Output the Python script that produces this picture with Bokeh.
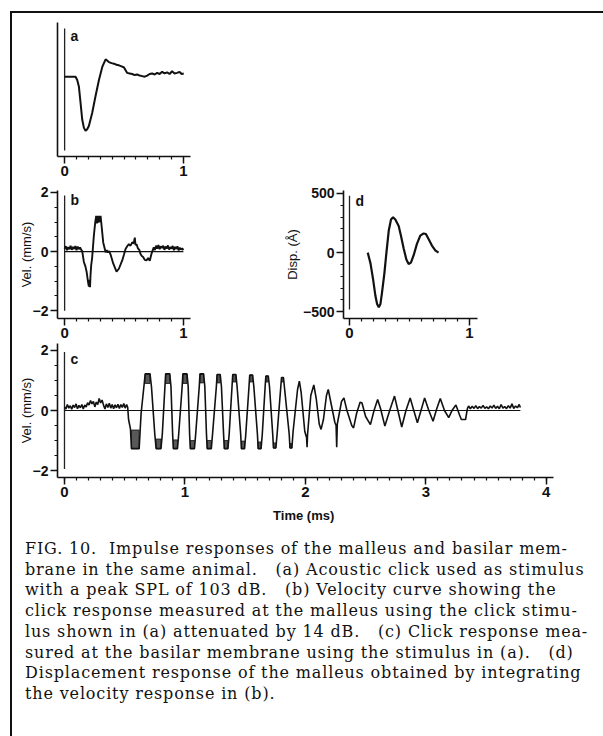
from bokeh.plotting import figure
from bokeh.models import FixedTicker, Range1d, Label, Div, Spacer
from bokeh.layouts import column, row
from bokeh.embed import file_html
from bokeh.resources import INLINE

# ---------------- data ----------------
onset = 0.0  # stimulus onset time (ms)

# (a) acoustic click, arbitrary units (baseline 0, minimum -1)
a_t = [0.0, 0.092, 0.106, 0.12, 0.134, 0.148, 0.162, 0.176, 0.19, 0.204, 0.232, 0.26, 0.289,
       0.317, 0.345, 0.373, 0.395, 0.415, 0.437, 0.457, 0.48, 0.5, 0.527, 0.548, 0.569, 0.59,
       0.611, 0.632, 0.653, 0.674, 0.695, 0.716, 0.737, 0.758, 0.779, 0.80, 0.821, 0.842,
       0.863, 0.884, 0.905, 0.926, 0.947, 0.968, 0.985, 1.003]
a_v = [0.0, 0.0, -0.06, -0.18, -0.48, -0.79, -0.94, -1.0, -0.97, -0.91, -0.67, -0.36, -0.06,
       0.18, 0.32, 0.27, 0.25, 0.24, 0.22, 0.21, 0.19, 0.17, 0.07, 0.06, 0.05, 0.03,
       0.04, 0.02, 0.01, 0.0, 0.02, 0.05, 0.06, 0.04, 0.07, 0.05, 0.09, 0.06,
       0.08, 0.05, 0.10, 0.06, 0.07, 0.09, 0.05, 0.06]
a_marker = (0.89, -1.36)

# (b) malleus velocity (mm/s)
b_t = [0.0, 0.01, 0.02, 0.03, 0.04, 0.05, 0.06, 0.07, 0.08, 0.09, 0.10, 0.11, 0.12, 0.13, 0.14,
       0.148, 0.162, 0.175, 0.185, 0.196, 0.204, 0.210, 0.214, 0.218, 0.224, 0.232, 0.246,
       0.258, 0.266, 0.272, 0.278, 0.284, 0.290, 0.296, 0.303, 0.308, 0.325, 0.345, 0.355,
       0.364, 0.375, 0.387, 0.409, 0.437, 0.457, 0.485, 0.50, 0.513, 0.527, 0.541, 0.555,
       0.569, 0.582, 0.591, 0.597, 0.606, 0.616, 0.63, 0.639, 0.65, 0.661, 0.675, 0.689,
       0.703, 0.717, 0.731, 0.742, 0.751, 0.76, 0.77, 0.78, 0.79, 0.80, 0.81, 0.82, 0.83,
       0.84, 0.85, 0.86, 0.87, 0.88, 0.89, 0.90, 0.91, 0.92, 0.93, 0.94, 0.95, 0.96, 0.97,
       0.98, 0.99, 1.0]
b_v = [0.10, 0.18, 0.05, 0.15, 0.08, 0.20, 0.06, 0.16, 0.09, 0.19, 0.05, 0.17, 0.08, 0.14, 0.06,
       0.02, -0.35, -0.50, -0.68, -1.00, -1.18, -0.95, -1.20, -0.80, -0.45, -0.20, 0.53,
       1.00, 1.21, 0.95, 1.21, 0.98, 1.21, 1.0, 1.21, 1.00, 0.31, -0.02, 0.05,
       -0.03, 0.02, -0.10, -0.40, -0.68, -0.58, -0.30, -0.10, 0.09, 0.18, 0.25, 0.20,
       0.31, 0.28, 0.47, 0.22, 0.25, 0.12, 0.05, -0.08, -0.15, -0.18, -0.28, -0.30,
       -0.22, -0.31, -0.08, 0.05, 0.14, 0.05, 0.20, 0.10, 0.22, 0.08, 0.18, 0.12, 0.20,
       0.06, 0.17, 0.10, 0.21, 0.07, 0.15, 0.10, 0.19, 0.05, 0.16, 0.09, 0.18, 0.04, 0.13,
       0.07, 0.11, 0.05]
b_marker = (1.9, -2.0)

# (c) basilar membrane velocity (mm/s)
c_t = [0.0, 0.012, 0.024, 0.036, 0.048, 0.06, 0.072, 0.084, 0.096, 0.108, 0.12, 0.132, 0.144,
       0.156, 0.168, 0.18, 0.192, 0.204, 0.216, 0.228, 0.24, 0.252, 0.264, 0.276, 0.288, 0.30,
       0.312, 0.324, 0.336, 0.348, 0.36, 0.372, 0.384, 0.396, 0.408, 0.42, 0.432, 0.444, 0.456,
       0.468, 0.48, 0.492, 0.504, 0.516, 0.525,
       0.532, 0.548, 0.556, 0.620, 0.636, 0.662, 0.670, 0.710, 0.722, 0.750, 0.761, 0.801,
       0.812, 0.834, 0.840, 0.874, 0.884, 0.898, 0.904, 0.938, 0.948, 0.977, 0.983, 1.017,
       1.027, 1.039, 1.045, 1.079, 1.089, 1.119, 1.125, 1.155, 1.165, 1.179, 1.185, 1.219,
       1.229, 1.261, 1.267, 1.293, 1.303, 1.321, 1.327, 1.357, 1.367, 1.391, 1.397, 1.423,
       1.433, 1.463, 1.469, 1.495, 1.505, 1.532, 1.538, 1.562, 1.572, 1.602, 1.608, 1.632,
       1.642, 1.666, 1.672, 1.692, 1.702, 1.729, 1.735, 1.755, 1.765, 1.796, 1.802, 1.818,
       1.828, 1.866, 1.872, 1.888, 1.898, 1.935, 1.950, 1.965, 1.995, 2.010, 2.014, 2.018,
       2.045, 2.070, 2.090, 2.115, 2.130, 2.150, 2.175, 2.190, 2.210, 2.245, 2.255, 2.260,
       2.265, 2.300, 2.320, 2.345, 2.385, 2.400, 2.425, 2.455, 2.470, 2.500, 2.540, 2.570,
       2.600, 2.625, 2.660, 2.700, 2.740, 2.765, 2.800, 2.835, 2.870, 2.900, 2.930, 2.960,
       2.990, 3.025, 3.060, 3.090, 3.120, 3.155, 3.190, 3.220, 3.250, 3.280, 3.295, 3.330,
       3.345, 3.355, 3.37, 3.385, 3.40, 3.415, 3.43, 3.445, 3.46, 3.475, 3.49, 3.505, 3.52,
       3.535, 3.55, 3.565, 3.58, 3.595, 3.61, 3.625, 3.64, 3.655, 3.67, 3.685, 3.70, 3.715,
       3.73, 3.745, 3.76, 3.775, 3.785]
c_v = [0.12, 0.05, 0.20, 0.08, 0.16, 0.04, 0.18, 0.10, 0.22, 0.06, 0.17, 0.09, 0.20,
       0.05, 0.18, 0.12, 0.26, 0.18, 0.33, 0.22, 0.30, 0.12, 0.28, 0.20, 0.40, 0.25,
       0.35, 0.18, 0.05, 0.22, 0.10, 0.24, 0.08, 0.20, 0.06, 0.19, 0.09, 0.21, 0.07,
       0.20, 0.10, 0.23, 0.08, 0.20, 0.10,
       -0.30, -0.62, -1.27, -1.27, -0.10, 0.90, 1.22, 1.22, 0.80, -0.80, -1.27, -1.27,
       -0.80, 0.80, 1.22, 1.22, 0.80, -0.80, -1.27, -1.27, -0.80, 0.80, 1.22, 1.22,
       0.80, -0.80, -1.27, -1.27, -0.80, 0.80, 1.22, 1.22, 0.80, -0.80, -1.27, -1.27,
       -0.80, 0.80, 1.20, 1.20, 0.80, -0.80, -1.27, -1.27, -0.80, 0.80, 1.20, 1.20,
       0.80, -0.80, -1.27, -1.27, -0.80, 0.80, 1.18, 1.18, 0.80, -0.80, -1.27, -1.27,
       -0.80, 0.80, 1.15, 1.15, 0.80, -0.80, -1.25, -1.25, -0.80, 0.80, 1.10, 1.10,
       0.70, -0.80, -1.25, -1.25, -0.70, 0.70, 0.98, 0.60, -0.70, -0.90, -1.22, -0.80,
       0.50, 0.85, 0.40, -0.45, -0.63, -0.30, 0.50, 0.70, 0.30, -0.40, -0.50, -1.22,
       -0.45, 0.30, 0.42, 0.00, -0.50, -0.58, -0.10, 0.28, 0.25, -0.20, -0.47, 0.00,
       0.37, 0.05, -0.52, 0.00, 0.48, 0.05, -0.55, 0.00, 0.42, 0.00, -0.41, 0.00,
       0.42, 0.00, -0.36, 0.05, 0.40, 0.00, -0.24, 0.02, 0.18, -0.15, -0.30, -0.30,
       0.06, 0.15, 0.06, 0.14, 0.07, 0.16, 0.06, 0.13, 0.08, 0.17, 0.07, 0.12, 0.06,
       0.15, 0.08, 0.18, 0.07, 0.14, 0.06, 0.20, 0.08, 0.13, 0.06, 0.16, 0.08, 0.22,
       0.07, 0.15, 0.09, 0.20, 0.10]
c_marker = (1.95, -1.95)
# dense (noisy) clipped stretches of trace (c)
c_clip_left = [0.556, 0.670, 0.761, 0.840, 0.904, 0.983, 1.045, 1.125, 1.185, 1.267, 1.327,
               1.397, 1.469, 1.538, 1.608, 1.672, 1.735, 1.802, 1.872]
c_clip_right = [0.620, 0.710, 0.801, 0.874, 0.938, 1.017, 1.079, 1.155, 1.219, 1.293, 1.357,
                1.423, 1.495, 1.562, 1.632, 1.692, 1.755, 1.818, 1.888]
c_clip_low = [-1.27, 0.90, -1.27, 0.90, -1.27, 0.90, -1.27, 0.92, -1.27, 0.92, -1.27,
              0.95, -1.27, 0.95, -1.27, 0.95, -1.25, 0.95, -1.25]
c_clip_high = [-0.65, 1.22, -0.95, 1.22, -0.98, 1.22, -1.0, 1.22, -1.0, 1.20, -1.0,
               1.20, -1.02, 1.18, -1.05, 1.15, -1.08, 1.10, -1.1]

# (d) malleus displacement (Angstrom)
d_t = [0.152, 0.175, 0.197, 0.216, 0.23, 0.244, 0.258, 0.271, 0.291, 0.307, 0.327, 0.346,
       0.363, 0.382, 0.41, 0.429, 0.452, 0.474, 0.493, 0.512, 0.535, 0.562, 0.59, 0.618,
       0.637, 0.659, 0.687, 0.715, 0.742]
d_v = [0, -91, -228, -365, -434, -461, -434, -338, -173, -8, 184, 280,
       299, 280, 225, 143, 33, -58, -96, -85, -22, 74, 143, 162,
       157, 115, 60, 19, 0]
d_marker = (480, -480)

# ticks
ab_x_ticks = [0, 1]
c_x_ticks = [0, 1, 2, 3, 4]
vel_ticks = [-2, 0, 2]
disp_ticks = [-500, 0, 500]

caption_lines = [
    "FIG. 10.  Impulse responses of the malleus and basilar mem-",
    "brane in the same animal.   (a) Acoustic click used as stimulus",
    "with a peak SPL of 103 dB.   (b) Velocity curve showing the",
    "click response measured at the malleus using the click stimu-",
    "lus shown in (a) attenuated by 14 dB.   (c) Click response mea-",
    "sured at the basilar membrane using the stimulus in (a).   (d)",
    "Displacement response of the malleus obtained by integrating",
    "the velocity response in (b).",
]

# ---------------- styling helpers ----------------
FONT = "Liberation Sans"


def make_fig(w, h, bl, br, bt, bb, xr, yr):
    p = figure(width=w, height=h, min_border_left=bl, min_border_right=br,
               min_border_top=bt, min_border_bottom=bb,
               x_range=Range1d(*xr), y_range=Range1d(*yr),
               toolbar_location=None, tools="", output_backend="svg")
    p.outline_line_color = None
    p.grid.visible = False
    p.background_fill_color = "white"
    p.border_fill_color = "white"
    for ax in p.axis:
        ax.axis_line_width = 1.6
        ax.axis_line_color = "#111111"
        ax.major_tick_line_width = 1.5
        ax.major_tick_line_color = "#111111"
        ax.minor_tick_line_width = 1.2
        ax.minor_tick_line_color = "#111111"
        ax.major_tick_in = 0
        ax.major_tick_out = 7
        ax.minor_tick_in = 0
        ax.minor_tick_out = 3
        ax.major_label_text_font = FONT
        ax.major_label_text_font_size = "15px"
        ax.major_label_text_font_style = "bold"
        ax.major_label_text_color = "#111111"
        ax.major_label_standoff = 2
        ax.axis_label_text_font = FONT
        ax.axis_label_text_font_size = "13px"
        ax.axis_label_text_font_style = "normal"
        ax.axis_label_text_color = "#111111"
    return p


def letter(p, txt, x, y):
    p.add_layout(Label(x=x, y=y, text=txt, text_font=FONT, text_font_size="14px",
                       text_font_style="bold", text_color="#111111",
                       text_baseline="middle", text_align="left"))


minor_01_1 = [i / 10 for i in range(1, 10)]
minor_01_4 = [i / 10 for i in range(0, 41)]

# ---------------- panel a ----------------
fa = make_fig(288, 165, 45, 110, 9, 20, (-0.06, 1.06), (-1.473, 1.0))
fa.xaxis.ticker = FixedTicker(ticks=ab_x_ticks, minor_ticks=minor_01_1)
fa.yaxis.ticker = FixedTicker(ticks=[], minor_ticks=[])
fa.segment(x0=[onset], y0=[a_marker[0]], x1=[onset], y1=[a_marker[1]], line_color="#222222", line_width=1.3)
fa.line(a_t, a_v, line_color="#111111", line_width=2)
letter(fa, "a", 0.05, 0.75)

# ---------------- panel b ----------------
fb = make_fig(250, 162, 45, 72, 10, 20, (-0.06, 1.06), (-2.262, 2.066))
fb.xaxis.ticker = FixedTicker(ticks=ab_x_ticks, minor_ticks=minor_01_1)
fb.yaxis.ticker = FixedTicker(ticks=vel_ticks, minor_ticks=[-1.5, -1, -0.5, 0.5, 1, 1.5])
fb.yaxis.major_label_text_font_size = "14px"
fb.yaxis.axis_label = "Vel. (mm/s)"
fb.yaxis.axis_label_standoff = -4
fb.segment(x0=[onset], y0=[b_marker[0]], x1=[onset], y1=[b_marker[1]], line_color="#222222", line_width=1.3)
fb.line([b_t[0], b_t[-1]], [0, 0], line_color="#111111", line_width=1.1)
fb.line(b_t, b_v, line_color="#111111", line_width=1.9)
letter(fb, "b", 0.05, 1.74)

# ---------------- panel d ----------------
fd = make_fig(329, 162, 81, 114, 12, 18, (-0.05, 1.067), (-557, 525))
fd.xaxis.ticker = FixedTicker(ticks=ab_x_ticks, minor_ticks=minor_01_1)
fd.yaxis.ticker = FixedTicker(ticks=disp_ticks, minor_ticks=[-400, -300, -200, -100, 100, 200, 300, 400])
fd.yaxis.major_label_text_font_size = "14px"
fd.yaxis.axis_label = "Disp. (Å)"
fd.yaxis.axis_label_standoff = 0
fd.segment(x0=[onset], y0=[d_marker[0]], x1=[onset], y1=[d_marker[1]], line_color="#222222", line_width=1.3)
fd.line(d_t, d_v, line_color="#111111", line_width=2.2)
letter(fd, "d", 0.05, 434)

# ---------------- panel c ----------------
fc = make_fig(579, 190, 45, 38, 3, 53, (-0.058, 4.06), (-2.233, 2.233))
fc.xaxis.ticker = FixedTicker(ticks=c_x_ticks, minor_ticks=minor_01_4)
fc.yaxis.ticker = FixedTicker(ticks=vel_ticks, minor_ticks=[-1.5, -1, -0.5, 0.5, 1, 1.5])
fc.yaxis.major_label_text_font_size = "14px"
fc.yaxis.axis_label = "Vel. (mm/s)"
fc.yaxis.axis_label_standoff = -4
fc.xaxis.axis_label = "Time  (ms)"
fc.xaxis.axis_label_text_font_style = "bold"
fc.xaxis.axis_label_standoff = 8
fc.segment(x0=[onset], y0=[c_marker[0]], x1=[onset], y1=[c_marker[1]], line_color="#222222", line_width=1.3)
fc.line([c_t[0], c_t[-1]], [0, 0], line_color="#111111", line_width=1.1)
fc.quad(left=c_clip_left, right=c_clip_right, bottom=c_clip_low, top=c_clip_high,
        fill_color="#111111", fill_alpha=0.7, line_color="#111111", line_width=0.8)
fc.line(c_t, c_v, line_color="#111111", line_width=1.6)
letter(fc, "c", 0.05, 1.7)

# ---------------- caption ----------------
cap_html = ("<div style=\"font-family:'DejaVu Serif'; font-size:16px; letter-spacing:0.85px; "
            "line-height:20.7px; white-space:pre; color:#111; padding:9px 0 0 13px; margin:0;\">"
            + "<br>".join(caption_lines) + "</div>")
caption = Div(text=cap_html, width=579, height=206, margin=0)

content = column(row(fa), row(fb, fd), fc, caption, spacing=0)

top_line = Div(text="", width=593, height=2, margin=0, styles={"background-color": "#111111"})
left_line = Div(text="", width=2, height=723, margin=0, styles={"background-color": "#111111"})

root = column(
    Spacer(width=603, height=11),
    row(Spacer(width=10, height=2), top_line, spacing=0),
    row(Spacer(width=10, height=723), left_line, content, spacing=0),
    spacing=0,
)

open("out.html", "w").write(file_html(root, INLINE))
